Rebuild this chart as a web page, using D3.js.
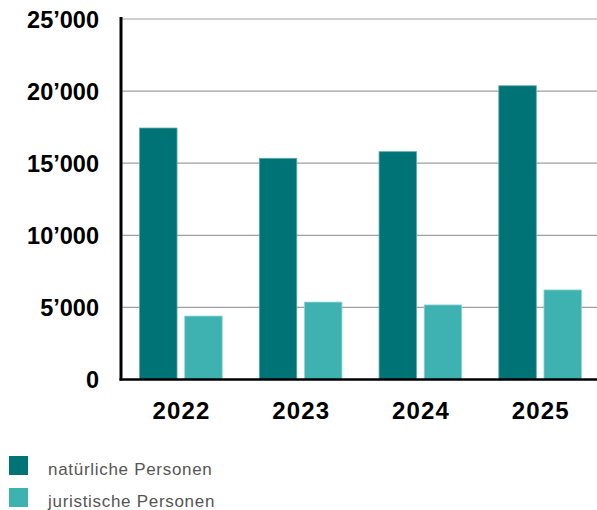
<!DOCTYPE html>
<html>
<head>
<meta charset="utf-8">
<script src="https://cdn.jsdelivr.net/npm/d3@7"></script>
<style>
  body { margin: 0; background: #fff; }
  svg { display: block; }
</style>
</head>
<body>
<script>
var years = ["2022", "2023", "2024", "2025"];                 // categories
var series = ["natürliche Personen", "juristische Personen"]; // legend labels
var natural = [17440, 15340, 15800, 20370];                   // dark bars
var legal = [4400, 5370, 5170, 6210];                         // light bars
var yTicks = [0, 5000, 10000, 15000, 20000, 25000];           // y tick values

var colors = ["#007377", "#3eb1b1"];

var width = 597, height = 510;
var margin = {left: 121, right: 600, top: 19, bottom: 379.5};

var svg = d3.select("body").append("svg").attr("width", width).attr("height", height);

var data = years.map(function(y, i) { return {year: y, values: [natural[i], legal[i]]}; });

var y = d3.scaleLinear().domain([0, 25000]).range([margin.bottom, margin.top]);

var x0 = d3.scaleBand().domain(years).range([margin.left, margin.right]).paddingInner(0.31).paddingOuter(0.155);
var x1 = d3.scaleBand().domain([0, 1]).range([0, x0.bandwidth()]).paddingInner(0.17);

// gridlines
svg.append("g")
   .selectAll("line")
   .data(yTicks.filter(function(d) { return d > 0; }))
   .enter().append("line")
     .attr("x1", margin.left).attr("x2", width)
     .attr("y1", function(d) { return y(d); })
     .attr("y2", function(d) { return y(d); })
     .attr("stroke", "#a0a0a0")
     .attr("stroke-width", 1.2);

// bars
var groups = svg.append("g").selectAll("g")
   .data(data)
   .enter().append("g")
     .attr("transform", function(d) { return "translate(" + x0(d.year) + ",0)"; });

groups.selectAll("rect")
   .data(function(d) { return d.values; })
   .enter().append("rect")
     .attr("x", function(d, i) { return x1(i); })
     .attr("width", x1.bandwidth())
     .attr("y", function(d) { return y(d); })
     .attr("height", function(d) { return margin.bottom - y(d); })
     .attr("fill", function(d, i) { return colors[i]; })
     .attr("stroke", function(d, i) { return i === 0 ? "#5fa9ab" : "#8fd4d4"; })
     .attr("stroke-width", 0.8);

// y axis
var yAxis = d3.axisLeft(y).tickValues(yTicks).tickSize(0).tickPadding(22)
   .tickFormat(function(d) { return d === 0 ? "0" : d3.format(",")(d).replace(",", "\u2019"); });

var gy = svg.append("g").attr("transform", "translate(" + margin.left + ",0)").call(yAxis);
gy.select(".domain").remove();
gy.selectAll("text")
   .attr("font-family", "Liberation Sans, Arial, sans-serif")
   .attr("font-weight", "bold")
   .attr("font-size", "23.5px")
   .attr("fill", "#000")
   .attr("dy", "0.36em");

// x axis
var xAxis = d3.axisBottom(x0).tickSize(0).tickPadding(22);
var gx = svg.append("g").attr("transform", "translate(0," + margin.bottom + ")").call(xAxis);
gx.select(".domain").remove();
gx.selectAll("text")
   .attr("font-family", "Liberation Sans, Arial, sans-serif")
   .attr("font-weight", "bold")
   .attr("font-size", "24px")
   .attr("letter-spacing", "1.2px")
   .attr("dx", "0.6")
   .attr("fill", "#000");

// axis lines
svg.append("line").attr("x1", margin.left).attr("x2", margin.left).attr("y1", margin.top - 2).attr("y2", margin.bottom + 1)
   .attr("stroke", "#000").attr("stroke-width", 3);
svg.append("line").attr("x1", margin.left - 1.5).attr("x2", width).attr("y1", margin.bottom).attr("y2", margin.bottom)
   .attr("stroke", "#000").attr("stroke-width", 2.5);

// legend
var legend = svg.append("g").selectAll("g")
   .data(series)
   .enter().append("g")
     .attr("transform", function(d, i) { return "translate(9," + (456 + i * 32) + ")"; });

legend.append("rect")
   .attr("width", 19).attr("height", 19)
   .attr("fill", function(d, i) { return colors[i]; });

legend.append("text")
   .attr("x", 39).attr("y", 19)
   .attr("font-family", "Liberation Sans, Arial, sans-serif")
   .attr("font-size", "17px")
   .attr("letter-spacing", "0.7px")
   .attr("fill", "#555")
   .text(function(d) { return d; });
</script>
</body>
</html>
